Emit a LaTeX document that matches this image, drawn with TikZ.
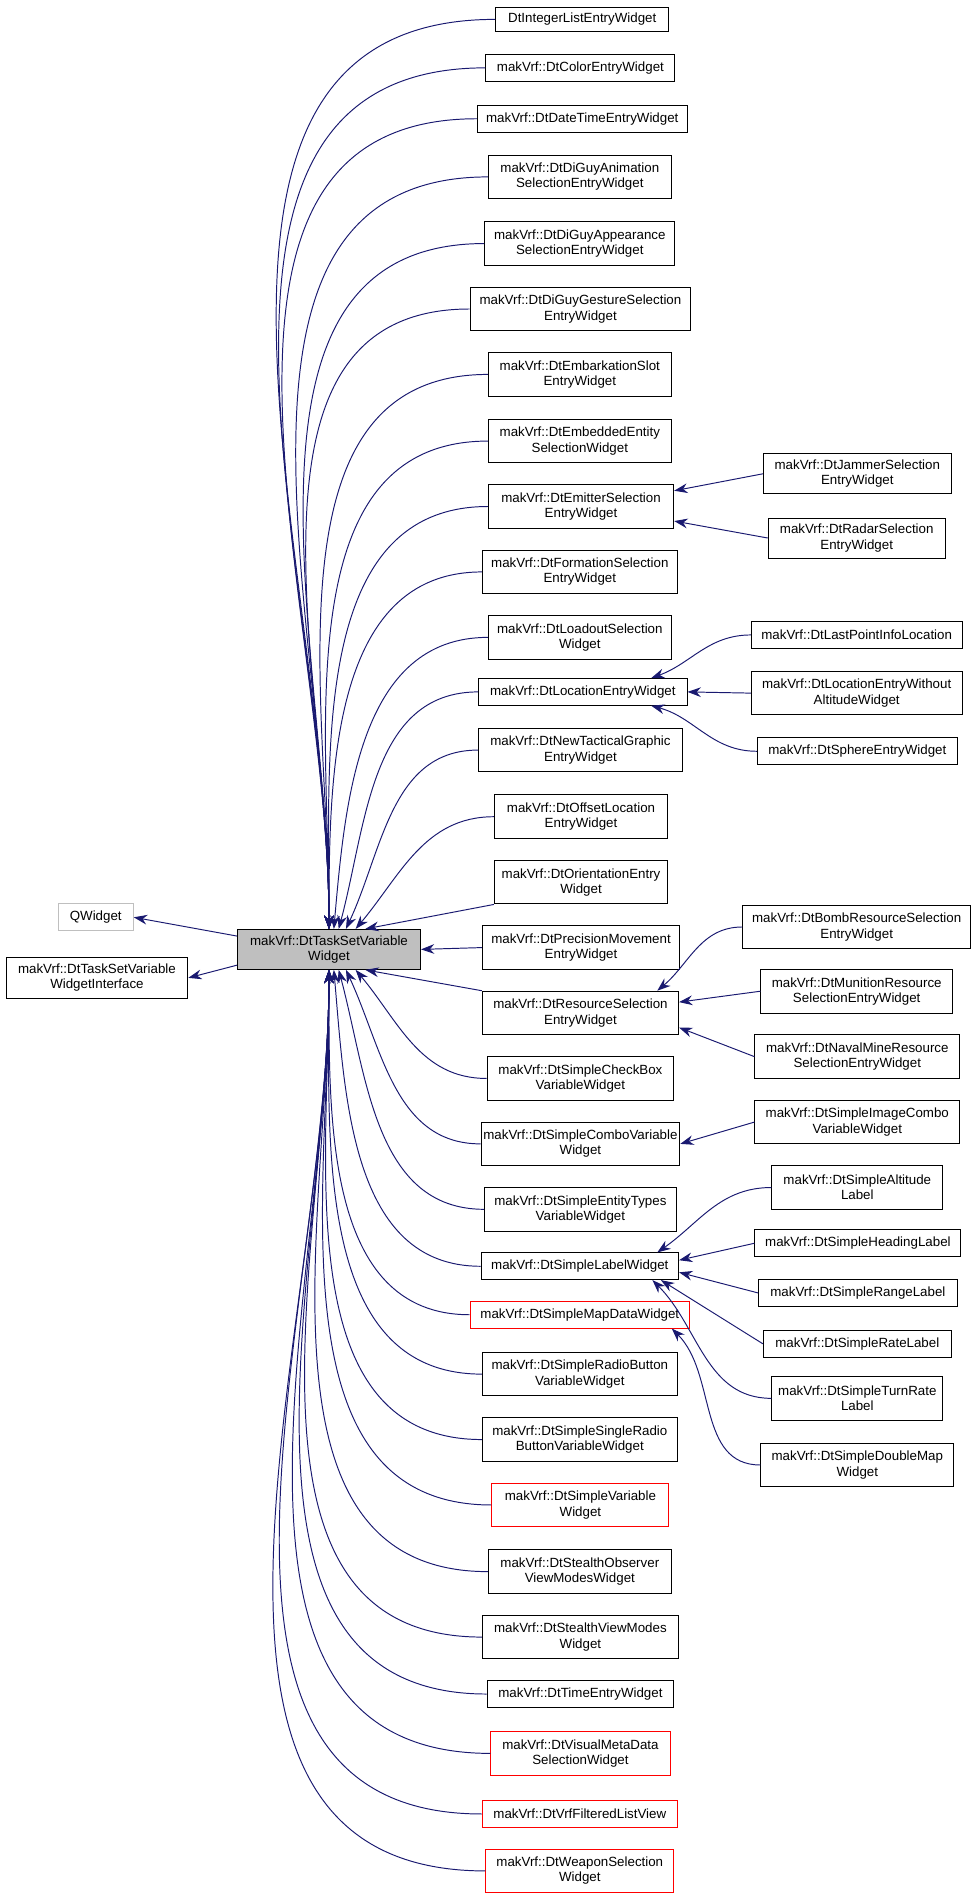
\documentclass[tikz,border=0pt]{standalone}
\usepackage{fontspec}
\setmainfont{Liberation Sans}
\usetikzlibrary{arrows.meta}
\definecolor{navy}{HTML}{191970}
\begin{document}
\begin{tikzpicture}[x=1pt,y=-1pt,
 b/.style={draw,line width=0.8pt,inner sep=0pt,align=center,minimum height=36,font=\fontsize{11}{12.5}\selectfont},
 s/.style={b,minimum height=22},
 r/.style={draw=red},
 e/.style={draw=navy,line width=0.8pt,{Stealth[length=11pt,width=8pt]}-}]
\useasboundingbox (0,0) rectangle (808,1568);
\node[b,fill=black!25,minimum width=151,minimum height=33] (m) at (271.5,783.5) {makVrf::DtTaskSetVariable\\Widget};
\node[s,draw=black!25,minimum width=62] (q) at (79,757) {QWidget};
\node[b,minimum width=150,minimum height=34] (wi) at (80,807) {makVrf::DtTaskSetVariable\\WidgetInterface};
% middle column
\node[s,minimum width=143,minimum height=20] (c1) at (480.5,16) {DtIntegerListEntryWidget};
\node[s,minimum width=156] (c2) at (479,56) {makVrf::DtColorEntryWidget};
\node[s,minimum width=173] (c3) at (480.5,98) {makVrf::DtDateTimeEntryWidget};
\node[b,minimum width=151] (c4) at (478.5,146) {makVrf::DtDiGuyAnimation\\SelectionEntryWidget};
\node[b,minimum width=157] (c5) at (478.5,201) {makVrf::DtDiGuyAppearance\\SelectionEntryWidget};
\node[b,minimum width=182] (c6) at (479,255) {makVrf::DtDiGuyGestureSelection\\EntryWidget};
\node[b,minimum width=151] (c7) at (478.5,309) {makVrf::DtEmbarkationSlot\\EntryWidget};
\node[b,minimum width=151] (c8) at (478.5,364) {makVrf::DtEmbeddedEntity\\SelectionWidget};
\node[b,minimum width=153] (c9) at (479.5,418) {makVrf::DtEmitterSelection\\EntryWidget};
\node[b,minimum width=161] (c10) at (478.5,472) {makVrf::DtFormationSelection\\EntryWidget};
\node[b,minimum width=151] (c11) at (478.5,526) {makVrf::DtLoadoutSelection\\Widget};
\node[s,minimum width=172] (c12) at (481,571) {makVrf::DtLocationEntryWidget};
\node[b,minimum width=168] (c13) at (479,619) {makVrf::DtNewTacticalGraphic\\EntryWidget};
\node[b,minimum width=143] (c14) at (479.5,674) {makVrf::DtOffsetLocation\\EntryWidget};
\node[b,minimum width=143] (c15) at (479.5,728) {makVrf::DtOrientationEntry\\Widget};
\node[b,minimum width=163] (c16) at (479.5,782) {makVrf::DtPrecisionMovement\\EntryWidget};
\node[b,minimum width=162] (c17) at (479,836) {makVrf::DtResourceSelection\\EntryWidget};
\node[b,minimum width=154] (c18) at (479,890) {makVrf::DtSimpleCheckBox\\VariableWidget};
\node[b,minimum width=164] (c19) at (479,944) {makVrf::DtSimpleComboVariable\\Widget};
\node[b,minimum width=158] (c20) at (479,998) {makVrf::DtSimpleEntityTypes\\VariableWidget};
\node[s,minimum width=163] (c21) at (478.5,1045) {makVrf::DtSimpleLabelWidget};
\node[s,r,minimum width=181] (c22) at (478.5,1085) {makVrf::DtSimpleMapDataWidget};
\node[b,minimum width=161] (c23) at (478.5,1134) {makVrf::DtSimpleRadioButton\\VariableWidget};
\node[b,minimum width=161] (c24) at (478.5,1188) {makVrf::DtSimpleSingleRadio\\ButtonVariableWidget};
\node[b,r,minimum width=146] (c25) at (479,1242) {makVrf::DtSimpleVariable\\Widget};
\node[b,minimum width=151] (c26) at (478.5,1297) {makVrf::DtStealthObserver\\ViewModesWidget};
\node[b,minimum width=162] (c27) at (479,1351) {makVrf::DtStealthViewModes\\Widget};
\node[s,minimum width=154] (c28) at (479,1398) {makVrf::DtTimeEntryWidget};
\node[b,r,minimum width=148] (c29) at (479,1447) {makVrf::DtVisualMetaData\\SelectionWidget};
\node[s,r,minimum width=161] (c30) at (478.5,1497) {makVrf::DtVrfFilteredListView};
\node[b,r,minimum width=155] (c31) at (478.5,1544) {makVrf::DtWeaponSelection\\Widget};
% right column
\node[b,minimum width=155,minimum height=33] (j) at (707.5,391) {makVrf::DtJammerSelection\\EntryWidget};
\node[b,minimum width=146,minimum height=33] (ra) at (707,444) {makVrf::DtRadarSelection\\EntryWidget};
\node[s,minimum width=174] (lp) at (707,524) {makVrf::DtLastPointInfoLocation};
\node[b,minimum width=174] (lw) at (707,572) {makVrf::DtLocationEntryWithout\\AltitudeWidget};
\node[s,minimum width=165] (sp) at (707.5,620) {makVrf::DtSphereEntryWidget};
\node[b,minimum width=188] (bo) at (707,765) {makVrf::DtBombResourceSelection\\EntryWidget};
\node[b,minimum width=158] (mu) at (707,818) {makVrf::DtMunitionResource\\SelectionEntryWidget};
\node[b,minimum width=169] (na) at (707.5,872) {makVrf::DtNavalMineResource\\SelectionEntryWidget};
\node[b,minimum width=169] (ic) at (707.5,926) {makVrf::DtSimpleImageCombo\\VariableWidget};
\node[b,minimum width=141] (al) at (707.5,980) {makVrf::DtSimpleAltitude\\Label};
\node[s,minimum width=170] (he) at (708,1026) {makVrf::DtSimpleHeadingLabel};
\node[s,minimum width=164] (rg) at (708,1067) {makVrf::DtSimpleRangeLabel};
\node[s,minimum width=155] (rt) at (707.5,1109) {makVrf::DtSimpleRateLabel};
\node[b,minimum width=141] (tr) at (707.5,1154) {makVrf::DtSimpleTurnRate\\Label};
\node[b,minimum width=159] (dm) at (707.5,1209) {makVrf::DtSimpleDoubleMap\\Widget};
% edges left
\draw[e] (q.east) -- ([yshift=11]m.west);
\draw[e] (wi.east) -- ([yshift=-13]m.west);
% edges to main from above
\foreach \c in {c1,c2,c3,c4,c5,c6,c7,c8,c9,c10}
  \draw[e] (m.north) to[out=90,in=180] (\c.west);
\draw[e] ([xshift=4]m.north) to[out=85,in=180] (c11.west);
\draw[e] ([xshift=8]m.north) to[out=75,in=180] (c12.west);
\draw[e] ([xshift=14]m.north) to[out=65,in=180] (c13.west);
\draw[e] ([xshift=22]m.north) to[out=50,in=180] (c14.west);
\draw[e] ([xshift=30]m.north) -- (c15.south west);
\draw[e] (m.east) -- (c16.west);
\draw[e] ([xshift=30]m.south) -- (c17.north west);
\draw[e] ([xshift=22]m.south) to[out=-50,in=180] (c18.west);
\draw[e] ([xshift=14]m.south) to[out=-65,in=180] (c19.west);
\draw[e] ([xshift=8]m.south) to[out=-75,in=180] (c20.west);
\draw[e] ([xshift=4]m.south) to[out=-85,in=180] (c21.west);
\foreach \c in {c22,c23,c24,c25,c26,c27,c28,c29,c30,c31}
  \draw[e] (m.south) to[out=-90,in=180] (\c.west);
% edges right
\draw[e] ([yshift=13]c9.east) -- (j.west);
\draw[e] ([yshift=-12]c9.east) -- (ra.west);
\draw[e] ([xshift=-30]c12.north east) to[out=20,in=180] (lp.west);
\draw[e] (c12.east) -- (lw.west);
\draw[e] ([xshift=-30]c12.south east) to[out=-15,in=180] (sp.west);
\draw[e] ([xshift=-18]c17.north east) to[out=40,in=180] (bo.west);
\draw[e] ([yshift=9]c17.east) -- (mu.west);
\draw[e] ([yshift=-12]c17.east) -- (na.west);
\draw[e] (c19.east) -- (ic.west);
\draw[e] ([xshift=-18]c21.north east) to[out=35,in=180] (al.west);
\draw[e] ([yshift=5]c21.east) -- (he.west);
\draw[e] ([yshift=-5]c21.east) -- (rg.west);
\draw[e] ([xshift=-15]c21.south east) -- (rt.west);
\draw[e] ([xshift=-22]c21.south east) to[out=-45,in=180] (tr.west);
\draw[e] ([xshift=-15]c22.south east) to[out=-45,in=180] (dm.west);
\end{tikzpicture}
\end{document}
